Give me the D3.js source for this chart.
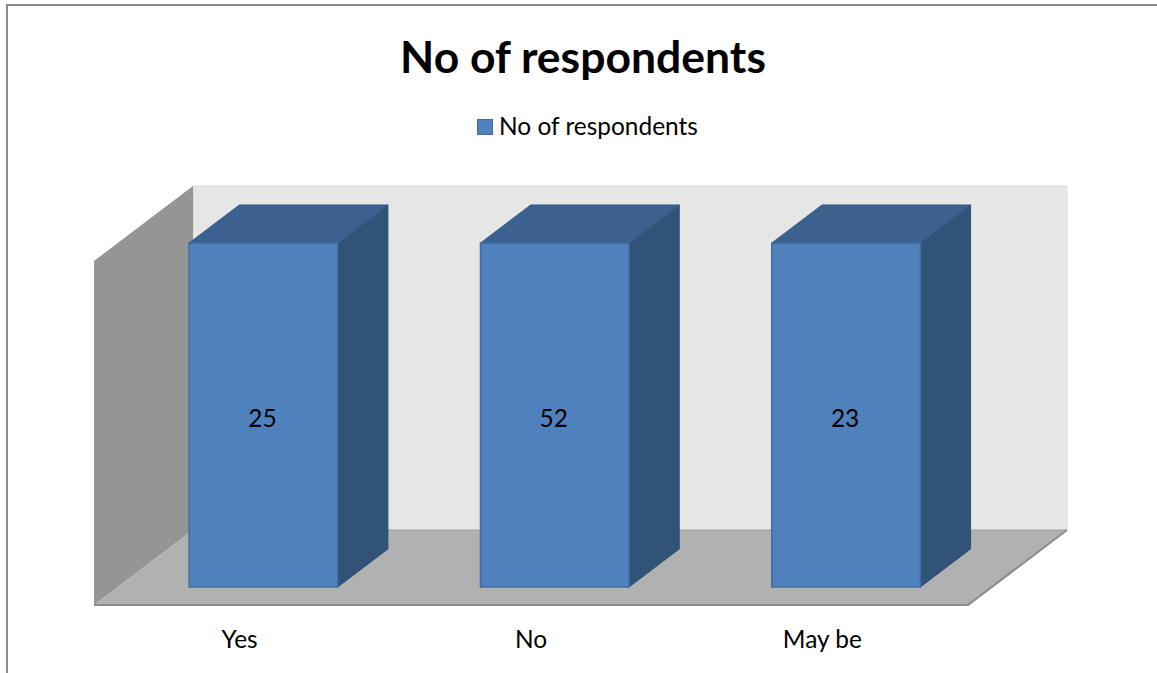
<!DOCTYPE html>
<html>
<head>
<meta charset="utf-8">
<script src="https://cdn.jsdelivr.net/npm/d3@7"></script>
<style>
  html, body { margin: 0; padding: 0; background: #fff; }
  svg { display: block; }
  text { font-family: Lato, "Open Sans", sans-serif; fill: #000; }
</style>
</head>
<body>
<svg id="chart" width="1157" height="673"></svg>
<script>
// ---- data ----
const title = "No of respondents";
const seriesName = "No of respondents";
const categories = ["Yes", "No", "May be"];
const values = [25, 52, 23];

// ---- layout ----
const W = 1157, H = 673;
const svg = d3.select("#chart");

// chart border
svg.append("path")
  .attr("d", `M7,${H} V5 H${W}`)
  .attr("fill", "none").attr("stroke", "#8a8a8a").attr("stroke-width", 2);

// 3D projection
const baseY = 605;           // front floor edge
const DX = 99, DY = 75;      // depth offset
const proj = (x, h, z) => [x + z * DX, baseY - h - z * DY];

// 100% stacked single series -> each bar fills full height
const rows = categories.map((c, i) => ({ cat: c, [seriesName]: values[i] }));
const stacked = d3.stack().keys([seriesName]).offset(d3.stackOffsetExpand)(rows)[0];

const x = d3.scaleBand().domain(categories).range([94, 968])
  .paddingInner(0.49).paddingOuter(0.245);
const y = d3.scaleLinear().domain([0, 1]).range([0, 344]);

const poly = pts => "M" + pts.map(p => p.join(",")).join("L") + "Z";
const x0 = x.range()[0], x1 = x.range()[1];
const hTop = y(1);

// back wall
svg.append("path")
  .attr("d", poly([proj(x0, 0, 1), proj(x1, 0, 1), proj(x1, hTop, 1), proj(x0, hTop, 1)]))
  .attr("fill", "#e6e6e6").attr("stroke", "#dcdcdc").attr("stroke-width", 1);

// left side wall
svg.append("path")
  .attr("d", poly([proj(x0, 0, 0), proj(x0, 0, 1), proj(x0, hTop, 1), proj(x0, hTop, 0)]))
  .attr("fill", "#959595");

// floor
svg.append("path")
  .attr("d", poly([proj(x0, 0, 0), proj(x0, 0, 1), proj(x1, 0, 1), proj(x1, 0, 0)]))
  .attr("fill", "#b1b1b1");
svg.append("path")
  .attr("d", "M" + [proj(x0, 0, 1), proj(x1, 0, 1)].map(p => p.join(",")).join("L"))
  .attr("fill", "none").attr("stroke", "#a0a0a0").attr("stroke-width", 1);
svg.append("path")
  .attr("d", "M" + [proj(x0, 0, 0), proj(x1, 0, 0), proj(x1, 0, 1)].map(p => p.join(",")).join("L"))
  .attr("fill", "none").attr("stroke", "#8c8c8c").attr("stroke-width", 2);

// bars
const zF = 0.24, zB = 0.747;
const bars = svg.append("g").selectAll("g").data(stacked).join("g");
bars.each(function(d, i) {
  const g = d3.select(this);
  const cat = categories[i];
  const xa = x(cat), xb = x(cat) + x.bandwidth();
  const h0 = y(d[0]), h1 = y(d[1]);
  // side face
  g.append("path")
    .attr("d", poly([proj(xb, h0, zF), proj(xb, h0, zB), proj(xb, h1, zB), proj(xb, h1, zF)]))
    .attr("fill", "#325378").attr("stroke", "#2f4f74").attr("stroke-width", 1);
  // top face
  g.append("path")
    .attr("d", poly([proj(xa, h1, zF), proj(xb, h1, zF), proj(xb, h1, zB), proj(xa, h1, zB)]))
    .attr("fill", "#3b6190").attr("stroke", "#365b88").attr("stroke-width", 1);
  // front face
  const [fx0, fy1] = proj(xa, h1, zF), [fx1, fy0] = proj(xb, h0, zF);
  g.append("rect")
    .attr("x", fx0).attr("y", fy1).attr("width", fx1 - fx0).attr("height", fy0 - fy1)
    .attr("fill", "#4f81bd").attr("stroke", "#3f6da3").attr("stroke-width", 1.5);
  // data label
  g.append("text")
    .attr("class", "dlabel")
    .attr("x", (fx0 + fx1) / 2 - 1).attr("y", (fy0 + fy1) / 2 + 3)
    .attr("dy", "0.35em").attr("text-anchor", "middle")
    .text(values[i]);
});

// category axis
const axis = svg.append("g").attr("transform", `translate(0,${baseY})`)
  .call(d3.axisBottom(x).tickSize(0).tickPadding(0));
axis.select(".domain").remove();
axis.selectAll("text").attr("y", 43).attr("dy", 0).attr("fill", "#000")
  .style("font-family", "Lato, 'Open Sans', sans-serif");

// title
const tEl = svg.append("text").attr("x", 583).attr("y", 73)
  .attr("text-anchor", "middle").style("font-weight", "bold").style("font-size", "40px")
  .text(title);
const tw = tEl.node().getComputedTextLength();
tEl.style("font-size", (40 * 366 / tw) + "px");

// legend
svg.append("rect").attr("x", 477.5).attr("y", 119.5).attr("width", 15).attr("height", 15)
  .attr("fill", "#4f81bd").attr("stroke", "#3f6da3").attr("stroke-width", 1);
const lEl = svg.append("text").attr("x", 499).attr("y", 135).style("font-size", "22px").text(seriesName);
const lw = lEl.node().getComputedTextLength();
const fs = 22 * 199 / lw;
lEl.style("font-size", fs + "px");

svg.selectAll(".dlabel").style("font-size", fs + "px");
axis.selectAll("text").style("font-size", fs + "px");
</script>
</body>
</html>
